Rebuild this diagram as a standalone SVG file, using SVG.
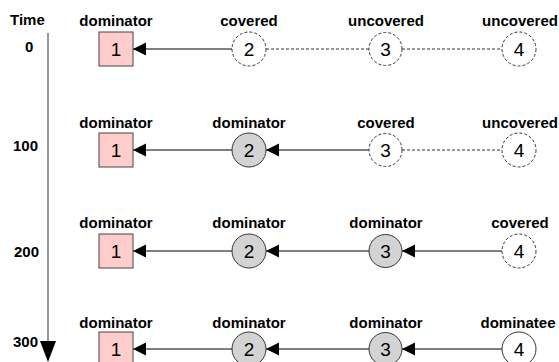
<svg xmlns="http://www.w3.org/2000/svg" width="559" height="362" viewBox="0 0 559 362">
<style>
.lbl{font-family:"Liberation Sans",Arial,sans-serif;font-weight:bold;font-size:15px;fill:#000;text-anchor:middle}
.tl{font-family:"Liberation Sans",Arial,sans-serif;font-weight:bold;font-size:15px;fill:#000}
.num{font-family:"Liberation Sans",Arial,sans-serif;font-size:19px;fill:#000;text-anchor:middle}
.sq{fill:#ffcccc;stroke:#444;stroke-width:1}
.dom{fill:#d3d3d3;stroke:#333;stroke-width:1}
.cov{fill:#fff;stroke:#333;stroke-width:1;stroke-dasharray:3,2}
.dee{fill:#fff;stroke:#333;stroke-width:1}
.sol{stroke:#000;stroke-width:1;fill:none;marker-end:url(#ah)}
.dsh{stroke:#333;stroke-width:1;fill:none;stroke-dasharray:3,2}
</style>
<defs>
<marker id="ah" markerUnits="userSpaceOnUse" markerWidth="14" markerHeight="14" refX="13" refY="7" orient="auto">
<path d="M0,0.5 L13,7 L0,13.5 Z" fill="#000"/>
</marker>
</defs>
<g id="axis">
<text class="tl" x="10" y="25">Time</text>
<text class="tl" x="25" y="52">0</text>
<text class="tl" x="13" y="151">100</text>
<text class="tl" x="14" y="257">200</text>
<text class="tl" x="13" y="347">300</text>
<line x1="48" y1="33" x2="48" y2="342" stroke="#555" stroke-width="1.2"/>
<path d="M40,341 L56,341 L48,362 Z" fill="#000"/>
</g>
<g id="connectors">
<line class="sol" x1="232" y1="49" x2="133" y2="49"/>
<line class="dsh" x1="266" y1="49" x2="369" y2="49"/>
<line class="dsh" x1="402" y1="49" x2="502" y2="49"/>
<line class="sol" x1="232" y1="150" x2="133" y2="150"/>
<line class="sol" x1="369" y1="150" x2="266" y2="150" stroke="#222"/>
<line class="dsh" x1="402" y1="150" x2="502" y2="150"/>
<line class="sol" x1="232" y1="251" x2="133" y2="251"/>
<line class="sol" x1="369" y1="251" x2="266" y2="251"/>
<line class="sol" x1="502" y1="251" x2="402" y2="251"/>
<line class="sol" x1="232" y1="349" x2="133" y2="349"/>
<line class="sol" x1="369" y1="349" x2="266" y2="349"/>
<line class="sol" x1="502" y1="349" x2="402" y2="349"/>
</g>
<g id="row0">
<g id="n1_t0"><text class="lbl" x="116" y="26">dominator</text><rect class="sq" x="99" y="32" width="34" height="34"/><text class="num" x="116" y="56">1</text></g>
<g id="n2_t0"><text class="lbl" x="249" y="26">covered</text><circle class="cov" cx="249" cy="49" r="17"/><text class="num" x="249" y="56">2</text></g>
<g id="n3_t0"><text class="lbl" x="386" y="26">uncovered</text><circle class="cov" cx="385.5" cy="49" r="16.5"/><text class="num" x="385.5" y="56">3</text></g>
<g id="n4_t0"><text class="lbl" x="520" y="26">uncovered</text><circle class="cov" cx="519" cy="49" r="17"/><text class="num" x="519" y="56">4</text></g>
</g>
<g id="row100">
<g id="n1_t100"><text class="lbl" x="116" y="128">dominator</text><rect class="sq" x="99" y="133" width="34" height="34"/><text class="num" x="116" y="157">1</text></g>
<g id="n2_t100"><text class="lbl" x="249" y="128">dominator</text><circle class="dom" cx="249" cy="150" r="17"/><text class="num" x="249" y="157">2</text></g>
<g id="n3_t100"><text class="lbl" x="386" y="128">covered</text><circle class="cov" cx="385.5" cy="150" r="16.5"/><text class="num" x="385.5" y="157">3</text></g>
<g id="n4_t100"><text class="lbl" x="520" y="128">uncovered</text><circle class="cov" cx="519" cy="150" r="17"/><text class="num" x="519" y="157">4</text></g>
</g>
<g id="row200">
<g id="n1_t200"><text class="lbl" x="116" y="228">dominator</text><rect class="sq" x="99" y="234" width="34" height="34"/><text class="num" x="116" y="258">1</text></g>
<g id="n2_t200"><text class="lbl" x="249" y="228">dominator</text><circle class="dom" cx="249" cy="251" r="17"/><text class="num" x="249" y="258">2</text></g>
<g id="n3_t200"><text class="lbl" x="386" y="228">dominator</text><circle class="dom" cx="385.5" cy="251" r="16.5"/><text class="num" x="385.5" y="258">3</text></g>
<g id="n4_t200"><text class="lbl" x="520" y="228">covered</text><circle class="cov" cx="519" cy="251" r="17"/><text class="num" x="519" y="258">4</text></g>
</g>
<g id="row300">
<g id="n1_t300"><text class="lbl" x="116" y="328">dominator</text><rect class="sq" x="99" y="332" width="34" height="34"/><text class="num" x="116" y="356">1</text></g>
<g id="n2_t300"><text class="lbl" x="249" y="328">dominator</text><circle class="dom" cx="249" cy="349" r="17"/><text class="num" x="249" y="356">2</text></g>
<g id="n3_t300"><text class="lbl" x="386" y="328">dominator</text><circle class="dom" cx="385.5" cy="349" r="16.5"/><text class="num" x="385.5" y="356">3</text></g>
<g id="n4_t300"><text class="lbl" x="518" y="328">dominatee</text><circle class="dee" cx="519" cy="349" r="17"/><text class="num" x="519" y="356">4</text></g>
</g>
</svg>
